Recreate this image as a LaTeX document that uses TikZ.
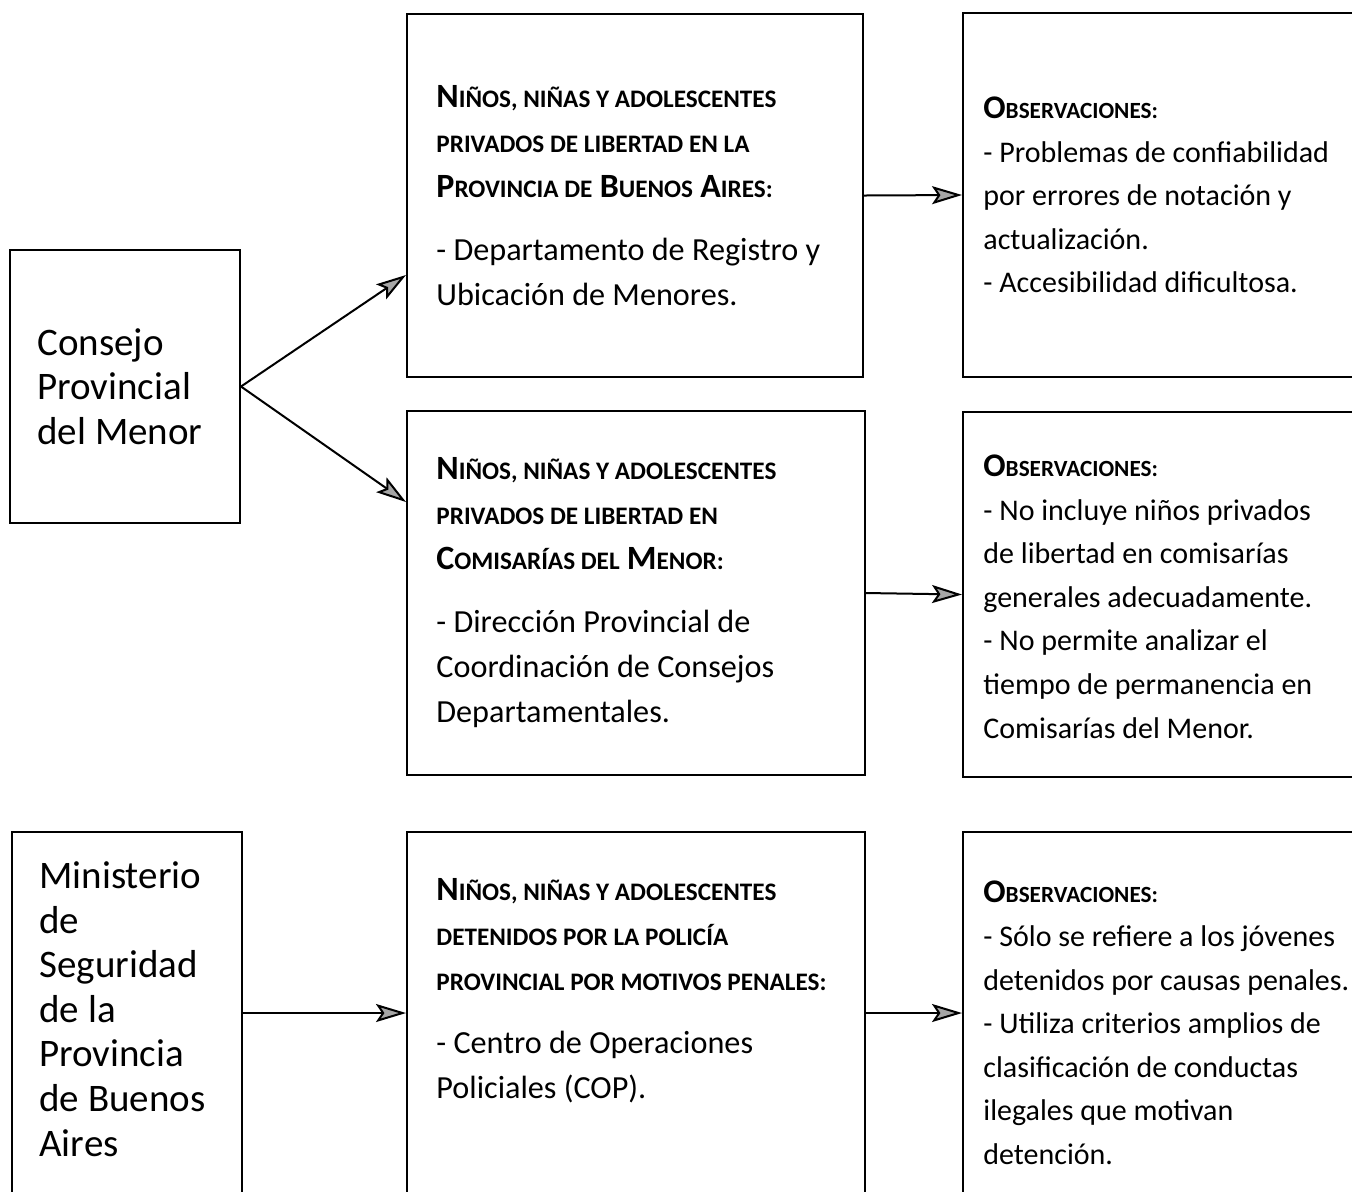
\documentclass[tikz,border=0pt]{standalone}
\usepackage{fontspec}
\setmainfont{Carlito}
\usetikzlibrary{arrows.meta}
\newcommand\hsc[1]{{\fontsize{12.6}{22}\selectfont #1}}
\newcommand\hcap[1]{{\fontsize{17}{22}\selectfont #1}}
\newcommand\osc[1]{{\fontsize{11.6}{22}\selectfont #1}}
\newcommand\ocap[1]{{\fontsize{16.5}{22}\selectfont #1}}
\begin{document}
\begin{tikzpicture}[x=0.5pt,y=-0.5pt,
  bx/.style={draw, line width=1pt, rectangle, inner sep=0pt},
  lefttxt/.style={font=\fontsize{19.5}{22.3}\selectfont, align=left, inner sep=0pt, anchor=west},
  midtxt/.style={font=\fontsize{16.1}{22.5}\selectfont, align=left, inner sep=0pt, anchor=west},
  obstxt/.style={font=\fontsize{15}{21.8}\selectfont, align=left, inner sep=0pt, anchor=west},
  arr/.style={line width=1pt, -{Stealth[length=15pt,width=9pt,inset=3pt,fill=gray!70]}}]
\useasboundingbox (0,0) rectangle (1352,1191);
% boxes
\node[bx, minimum width=115pt, minimum height=136.5pt] (A) at (125,386.5) {};
\node[bx, minimum width=228pt, minimum height=181.5pt] (B) at (635,195.5) {};
\node[bx, minimum width=229pt, minimum height=182pt] (C) at (636,593) {};
\node[bx, minimum width=195.5pt, minimum height=182pt] (D) at (1158.5,195) {};
\node[bx, minimum width=195.5pt, minimum height=182.5pt] (E) at (1158.5,594.5) {};
\node[bx, minimum width=115pt, minimum height=181pt] (F) at (127,1013) {};
\node[bx, minimum width=229pt, minimum height=181pt] (G) at (636,1013) {};
\node[bx, minimum width=195.5pt, minimum height=181pt] (H) at (1158.5,1013) {};
% texts
\node[lefttxt] (tA) at ([xshift=14pt]A.west) {Consejo\\Provincial\\del Menor};
\node[lefttxt] (tF) at ([xshift=14pt,yshift=2pt]F.west) {Ministerio\\de\\Seguridad\\de la\\Provincia\\de Buenos\\Aires};
\node[midtxt] (tB) at ([xshift=15pt]B.west) {\textbf{\hcap{N}\hsc{IÑOS, NIÑAS Y ADOLESCENTES}}\\
  \textbf{\hsc{PRIVADOS DE LIBERTAD EN LA}}\\
  \textbf{\hcap{P}\hsc{ROVINCIA DE} \hcap{B}\hsc{UENOS} \hcap{A}\hsc{IRES:}}\\[9pt]
  - Departamento de Registro y\\Ubicación de Menores.};
\node[midtxt] (tC) at ([xshift=15pt]C.west) {\textbf{\hcap{N}\hsc{IÑOS, NIÑAS Y ADOLESCENTES}}\\
  \textbf{\hsc{PRIVADOS DE LIBERTAD EN}}\\
  \textbf{\hcap{C}\hsc{OMISARÍAS DEL} \hcap{M}\hsc{ENOR:}}\\[9pt]
  - Dirección Provincial de\\Coordinación de Consejos\\Departamentales.};
\node[midtxt] (tG) at ([xshift=15pt,yshift=11pt]G.west) {\textbf{\hcap{N}\hsc{IÑOS, NIÑAS Y ADOLESCENTES}}\\
  \textbf{\hsc{DETENIDOS POR LA POLICÍA}}\\
  \textbf{\hsc{PROVINCIAL POR MOTIVOS PENALES:}}\\[9pt]
  - Centro de Operaciones\\Policiales (COP).};
\node[obstxt] (tD) at ([xshift=10.5pt]D.west) {\textbf{\ocap{O}\osc{BSERVACIONES:}}\\
  - Problemas de confiabilidad\\por errores de notación y\\actualización.\\- Accesibilidad dificultosa.};
\node[obstxt] (tE) at ([xshift=10.5pt,yshift=-1pt]E.west) {\textbf{\ocap{O}\osc{BSERVACIONES:}}\\
  - No incluye niños privados\\de libertad en comisarías\\generales adecuadamente.\\- No permite analizar el\\tiempo de permanencia en\\Comisarías del Menor.};
\node[obstxt] (tH) at ([xshift=10.5pt,yshift=-5pt]H.west) {\textbf{\ocap{O}\osc{BSERVACIONES:}}\\
  - Sólo se refiere a los jóvenes\\detenidos por causas penales.\\- Utiliza criterios amplios de\\clasificación de conductas\\ilegales que motivan\\detención.};
% connectors
\draw[arr] (A.east) -- ([yshift=-39.75pt]B.west);
\draw[arr] (A.east) -- ([yshift=45.5pt]C.west);
\draw[arr] (B.east) -- (D.west);
\draw[arr] (C.east) -- (E.west);
\draw[arr] (F.east) -- (G.west);
\draw[arr] (G.east) -- (H.west);
\end{tikzpicture}
\end{document}
